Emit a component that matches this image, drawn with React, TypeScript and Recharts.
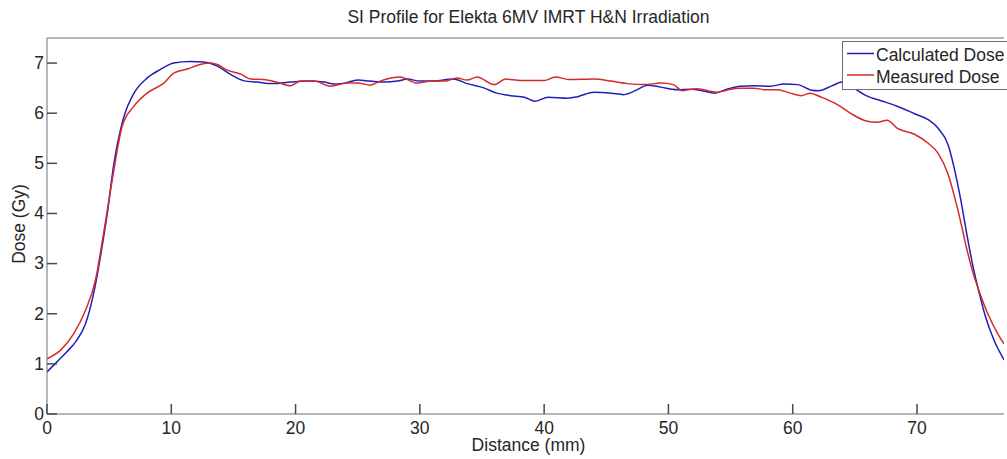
import React from "react";
import { LineChart, Line, XAxis, YAxis, Legend } from "recharts";

const FONT = '"Liberation Sans", Arial, Helvetica, sans-serif';
const TEXT = "#262626";
const AXIS = "#6e6e6e";
const TICK = "#4a4a4a";
const BLUE = "#1f1fb8";
const RED = "#d42a2a";
const TICK_LEN = 10;

const xTicks = [0, 10, 20, 30, 40, 50, 60, 70];
const yTicks = [0, 1, 2, 3, 4, 5, 6, 7];

// Calculated dose (blue)
const calcDistance = [
  0, 0.8, 1.6, 2.3, 3.1, 3.75, 4.3, 4.85, 5.35, 6.15, 7.0, 8.05, 9.1, 10.2, 11.5, 12.6, 13.7, 14.8,
  15.8, 16.9, 18.2, 19.6, 20.9, 22.3, 23.1, 23.9, 25.0, 26.0, 27.1, 28.2, 29.0, 30.0, 31.1, 32.7,
  33.8, 35.2, 36.2, 37.3, 38.4, 39.3, 40.3, 41.9, 42.7, 44.0, 45.4, 46.4, 47.5, 48.3, 49.4, 50.7,
  51.8, 52.9, 53.7, 54.7, 55.8, 56.9, 58.2, 59.3, 60.4, 61.5, 62.1, 63.1, 64.0, 64.9, 66.0, 67.1,
  68.4, 69.8, 70.9, 71.7, 72.5, 73.0, 73.5, 74.0, 74.5, 75.0, 75.5, 76.2, 77.0,
];
const calcDose = [
  0.84, 1.04, 1.24, 1.44, 1.8, 2.4, 3.14, 4.0, 4.94, 5.9, 6.4, 6.7, 6.87, 7.0, 7.03, 7.02, 6.94, 6.77,
  6.65, 6.62, 6.59, 6.62, 6.64, 6.62, 6.58, 6.6, 6.66, 6.64, 6.62, 6.64, 6.68, 6.64, 6.64, 6.68,
  6.59, 6.5, 6.4, 6.35, 6.32, 6.24, 6.32, 6.3, 6.33, 6.42, 6.4, 6.37, 6.47, 6.56, 6.52, 6.47,
  6.48, 6.44, 6.4, 6.48, 6.54, 6.55, 6.54, 6.58, 6.57, 6.46, 6.45, 6.54, 6.62, 6.5, 6.34, 6.25,
  6.14, 5.99, 5.87, 5.7, 5.37, 4.9, 4.3, 3.6, 2.95, 2.42, 1.95, 1.47, 1.08,
];

// Measured dose (red)
const measDistance = [
  0, 1.07, 2.14, 3.1, 3.9, 4.55, 5.25, 6.05, 7.0, 8.05, 9.4, 10.2, 11.3, 12.3, 13.2, 13.7, 14.5,
  15.6, 16.4, 17.4, 18.5, 19.6, 20.4, 21.5, 22.8, 24.2, 25.0, 26.0, 26.8, 28.4, 29.8, 30.9, 32.0,
  33.0, 33.8, 34.6, 36.0, 36.9, 38.1, 40.0, 40.9, 42.1, 44.0, 45.4, 46.7, 48.0, 49.4, 50.4, 51.1,
  52.3, 53.9, 55.6, 56.9, 57.7, 58.8, 59.8, 60.7, 61.4, 62.3, 63.6, 64.7, 66.0, 66.8, 67.6, 68.4,
  69.8, 70.9, 71.7, 72.5, 73.0, 73.5, 74.0, 74.5, 75.0, 75.7, 76.5, 77.0,
];
const measDose = [
  1.1, 1.27, 1.6, 2.07, 2.67, 3.6, 4.67, 5.74, 6.14, 6.4, 6.6, 6.8, 6.88, 6.97, 7.0, 6.97, 6.86,
  6.78, 6.68, 6.67, 6.62, 6.55, 6.64, 6.64, 6.54, 6.6, 6.6, 6.56, 6.64, 6.72, 6.6, 6.64, 6.64,
  6.7, 6.66, 6.72, 6.57, 6.68, 6.65, 6.65, 6.72, 6.67, 6.68, 6.64, 6.59, 6.57, 6.6, 6.57, 6.45,
  6.49, 6.42, 6.5, 6.5, 6.47, 6.47, 6.4, 6.35, 6.4, 6.32, 6.17, 5.99, 5.84, 5.82, 5.86, 5.7,
  5.58, 5.4, 5.2, 4.78, 4.35, 3.85, 3.3, 2.82, 2.45, 2.0, 1.6, 1.4,
];

const calculated = calcDistance.map((d, i) => ({ distance: d, dose: calcDose[i] }));
const measured = measDistance.map((d, i) => ({ distance: d, dose: measDose[i] }));

// matlab-style ticks point into the plot box, so the tick marks are drawn by hand
const tickLineProps = { stroke: TICK, strokeWidth: 1.5 };

const BottomTick = ({ x, y, payload }: any) => (
  <g>
    <line x1={x} x2={x} y1={y} y2={y - TICK_LEN} {...tickLineProps} />
    <text x={x} y={y + 19.5} textAnchor="middle" fontSize={17.5} fontFamily={FONT} fill={TEXT}>
      {payload.value}
    </text>
  </g>
);

const LeftTick = ({ x, y, payload }: any) => (
  <g>
    <line x1={x} x2={x + TICK_LEN} y1={y} y2={y} {...tickLineProps} />
    <text x={x - 3} y={y + 5.8} textAnchor="end" fontSize={17.5} fontFamily={FONT} fill={TEXT}>
      {payload.value}
    </text>
  </g>
);

const TopTick = ({ x, y }: any) => <line x1={x} x2={x} y1={y} y2={y + TICK_LEN} {...tickLineProps} />;
const RightTick = ({ x, y }: any) => <line x1={x} x2={x - TICK_LEN} y1={y} y2={y} {...tickLineProps} />;

function LegendBox() {
  return (
    <svg width={200} height={49} style={{ display: "block" }}>
      <rect x={0.5} y={0.5} width={199} height={48} fill="#fff" stroke={AXIS} />
      <line x1={5} x2={32} y1={12.5} y2={12.5} stroke={BLUE} strokeWidth={1.5} />
      <line x1={5} x2={32} y1={34} y2={34} stroke={RED} strokeWidth={1.5} />
      <text x={34} y={19.7} fontSize={17.5} fontFamily={FONT} fill={TEXT}>Calculated Dose</text>
      <text x={34} y={42.3} fontSize={17.5} fontFamily={FONT} fill={TEXT}>Measured Dose</text>
    </svg>
  );
}

export default function App() {
  return (
    <div style={{ position: "absolute", left: 0, top: 0, width: 1007, height: 459, overflow: "hidden", background: "#fff" }}>
      <LineChart width={1007} height={459} margin={{ top: 37, right: 3, bottom: 0, left: 0 }}>
        <XAxis
          dataKey="distance"
          type="number"
          domain={[0, 77]}
          ticks={xTicks}
          allowDataOverflow
          height={45}
          stroke={AXIS}
          tickLine={false}
          tickSize={0}
          tickMargin={0}
          tick={(p: any) => <BottomTick {...p} />}
          label={({ viewBox }: any) => (
            <text x={viewBox.x + viewBox.width / 2 + 3} y={viewBox.y + 37} textAnchor="middle" fontSize={17.5} fontFamily={FONT} fill={TEXT}>
              Distance (mm)
            </text>
          )}
        />
        <XAxis
          xAxisId="top"
          orientation="top"
          type="number"
          domain={[0, 77]}
          ticks={xTicks}
          height={1}
          stroke={AXIS}
          tickLine={false}
          tickSize={0}
          tickMargin={0}
          tick={(p: any) => <TopTick {...p} />}
          label={({ viewBox }: any) => (
            <text x={viewBox.x + viewBox.width / 2 + 3} y={viewBox.y - 14} textAnchor="middle" fontSize={17.5} fontFamily={FONT} fill={TEXT}>
              SI Profile for Elekta 6MV IMRT H&amp;N Irradiation
            </text>
          )}
        />
        <YAxis
          type="number"
          domain={[0, 7.5]}
          ticks={yTicks}
          width={47}
          stroke={AXIS}
          tickLine={false}
          tickSize={0}
          tickMargin={0}
          tick={(p: any) => <LeftTick {...p} />}
          label={({ viewBox }: any) => {
            const cx = 25;
            const cy = viewBox.y + viewBox.height / 2 - 2;
            return (
              <text x={cx} y={cy} transform={`rotate(-90, ${cx}, ${cy})`} textAnchor="middle" fontSize={17.5} fontFamily={FONT} fill={TEXT}>
                Dose (Gy)
              </text>
            );
          }}
        />
        <YAxis
          yAxisId="right"
          orientation="right"
          type="number"
          domain={[0, 7.5]}
          ticks={yTicks}
          width={0}
          stroke={AXIS}
          tickLine={false}
          tickSize={0}
          tickMargin={0}
          tick={(p: any) => <RightTick {...p} />}
        />
        <Line data={calculated} dataKey="dose" name="Calculated Dose" type="monotone" stroke={BLUE} strokeWidth={1.5} dot={false} isAnimationActive={false} />
        <Line data={measured} dataKey="dose" name="Measured Dose" type="monotone" stroke={RED} strokeWidth={1.5} dot={false} isAnimationActive={false} />
        <Legend
          layout="vertical"
          align="center"
          verticalAlign="middle"
          content={() => <LegendBox />}
          wrapperStyle={{ left: 842, top: 41, width: 200, height: 49, margin: 0 }}
        />
      </LineChart>
    </div>
  );
}
